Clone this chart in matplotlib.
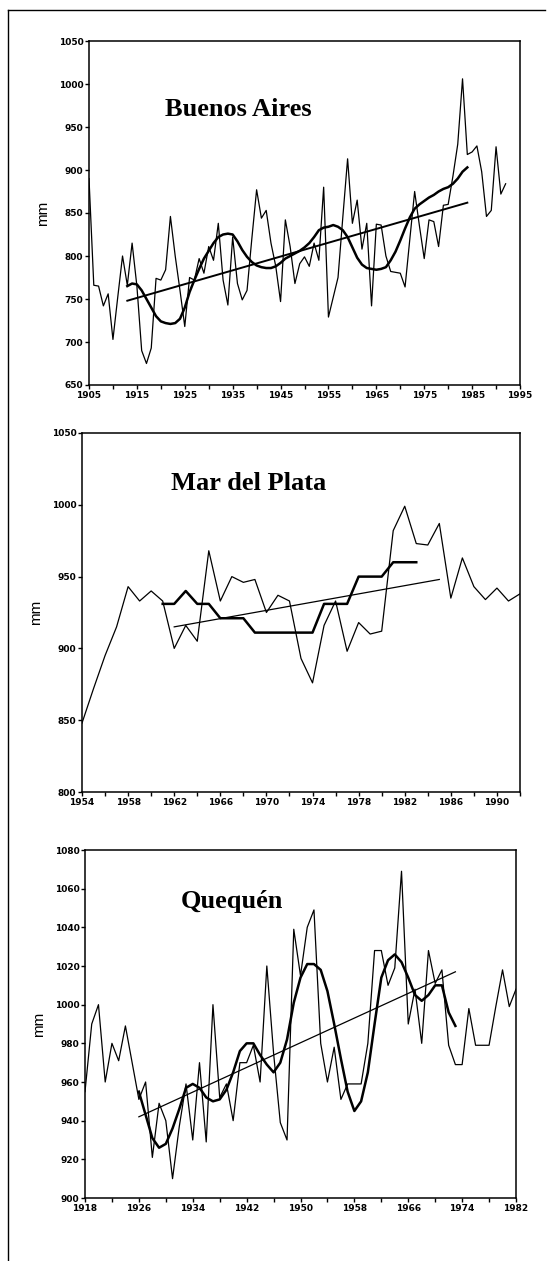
import matplotlib
matplotlib.use("Agg")
import matplotlib.pyplot as plt
from matplotlib.lines import Line2D

# ---------------- Buenos Aires ----------------
ba_years = list(range(1905, 1993))
ba_vals = [890, 766, 765, 742, 756, 703, 752, 800, 766, 815,
           765, 690, 675, 693, 774, 772, 784, 846, 800, 760,
           718, 775, 772, 797, 780, 811, 795, 838, 772, 743,
           822, 768, 749, 760, 820, 877, 844, 853, 815, 788,
           747, 842, 811, 768, 791, 799, 788, 815, 795, 880,
           729, 752, 775, 845, 913, 838, 865, 808, 838, 742,
           837, 836, 800, 782, 781, 780, 764, 820, 875, 835,
           797, 842, 840, 811, 859, 860, 893, 930, 1006, 918,
           921, 928, 898, 846, 853, 927, 872, 884]
ba_smooth_years = list(range(1913, 1985))
ba_smooth_vals = [765, 768, 767, 760, 750, 740, 730, 724, 722, 721,
                  722, 727, 740, 758, 772, 785, 797, 806, 815, 822,
                  825, 826, 825, 817, 807, 799, 793, 789, 787, 786,
                  786, 788, 792, 797, 800, 803, 806, 810, 815, 822,
                  830, 833, 834, 836, 834, 830, 822, 810, 798, 790,
                  786, 785, 784, 785, 787, 795, 805, 818, 832, 845,
                  855, 860, 864, 868, 871, 875, 878, 880, 884, 890,
                  898, 903]
ba_trend_years = [1913, 1984]
ba_trend_vals = [748, 862]
ba_xticks = list(range(1905, 1996, 10))
ba_xminor = list(range(1910, 1996, 10))
ba_yticks = list(range(650, 1051, 50))

# ---------------- Mar del Plata ----------------
mdp_years = list(range(1954, 1993))
mdp_vals = [848, 872, 895, 915, 943, 933, 940, 933, 900, 916,
            905, 968, 933, 950, 946, 948, 925, 937, 933, 893,
            876, 916, 933, 898, 918, 910, 912, 982, 999, 973,
            972, 987, 935, 963, 943, 934, 942, 933, 938]
mdp_smooth_years = list(range(1961, 1984))
mdp_smooth_vals = [931, 931, 940, 931, 931, 921, 921, 921, 911, 911,
                   911, 911, 911, 911, 931, 931, 931, 950, 950, 950,
                   960, 960, 960]
mdp_trend_years = [1962, 1985]
mdp_trend_vals = [915, 948]
mdp_xticks = list(range(1954, 1993, 4))
mdp_xminor = list(range(1956, 1993, 4))
mdp_yticks = list(range(800, 1051, 50))

# ---------------- Quequén ----------------
qq_years = list(range(1918, 1983))
qq_vals = [955, 990, 1000, 960, 980, 971, 989, 970, 951, 960,
           921, 949, 940, 910, 937, 959, 930, 970, 929, 1000,
           952, 959, 940, 970, 970, 979, 960, 1020, 975, 939,
           930, 1039, 1015, 1040, 1049, 980, 960, 978, 951, 959,
           959, 959, 980, 1028, 1028, 1010, 1019, 1069, 990, 1008,
           980, 1028, 1011, 1018, 979, 969, 969, 998, 979, 979,
           979, 999, 1018, 999, 1008]
qq_smooth_years = list(range(1926, 1974))
qq_smooth_vals = [955, 943, 931, 926, 928, 936, 946, 957, 959, 957,
                  952, 950, 951, 956, 965, 976, 980, 980, 974, 969,
                  965, 970, 982, 1001, 1014, 1021, 1021, 1018, 1007, 990,
                  972, 955, 945, 950, 965, 990, 1014, 1023, 1026, 1022,
                  1014, 1005, 1002, 1005, 1010, 1010, 996, 989]
qq_trend_years = [1926, 1973]
qq_trend_vals = [942, 1017]
qq_xticks = list(range(1918, 1983, 8))
qq_xminor = list(range(1922, 1983, 8))
qq_yticks = list(range(900, 1081, 20))

W, H = 557, 1261
fig = plt.figure(figsize=(W / 100, H / 100), dpi=100)

title_font = dict(family="Liberation Serif", weight="bold", size=19)


def make_axes(px_left, px_right, px_top, px_bottom):
    return fig.add_axes([px_left / W, 1 - px_bottom / H,
                         (px_right - px_left) / W, (px_bottom - px_top) / H])


def style(ax, xlim, ylim, xticks, xminor, yticks):
    ax.set_xlim(*xlim)
    ax.set_ylim(*ylim)
    ax.set_xticks(xticks)
    ax.set_xticks(xminor, minor=True)
    ax.set_yticks(yticks)
    ax.tick_params(axis="both", which="major", direction="out", length=3,
                   width=1, pad=1, colors="black")
    ax.tick_params(axis="x", which="minor", direction="out", length=3, width=1)
    for lab in ax.get_xticklabels() + ax.get_yticklabels():
        lab.set_fontfamily("DejaVu Sans")
        lab.set_fontweight("bold")
        lab.set_fontsize(6.5)
    for sp in ax.spines.values():
        sp.set_linewidth(1.1)
    ax.set_ylabel("mm", family="Liberation Sans", fontsize=11, labelpad=6)


# Buenos Aires
ax1 = make_axes(89, 520, 41, 385)
ax1.plot(ba_years, ba_vals, color="black", lw=0.9)
ax1.plot(ba_smooth_years, ba_smooth_vals, color="black", lw=1.8)
ax1.plot(ba_trend_years, ba_trend_vals, color="black", lw=1.4)
style(ax1, (1905, 1995), (650, 1050), ba_xticks, ba_xminor, ba_yticks)
ax1.text(0.346, 0.80, "Buenos Aires", transform=ax1.transAxes, ha="center",
         va="center", **title_font)

# Mar del Plata
ax2 = make_axes(82, 520, 433, 792)
ax2.plot(mdp_years, mdp_vals, color="black", lw=0.9)
ax2.plot(mdp_smooth_years, mdp_smooth_vals, color="black", lw=1.8)
ax2.plot(mdp_trend_years, mdp_trend_vals, color="black", lw=0.9)
style(ax2, (1954, 1992), (800, 1050), mdp_xticks, mdp_xminor, mdp_yticks)
ax2.text(0.38, 0.86, "Mar del Plata", transform=ax2.transAxes, ha="center",
         va="center", **title_font)

# Quequén
ax3 = make_axes(85, 516, 850, 1198)
ax3.plot(qq_years, qq_vals, color="black", lw=0.9)
ax3.plot(qq_smooth_years, qq_smooth_vals, color="black", lw=1.8)
ax3.plot(qq_trend_years, qq_trend_vals, color="black", lw=0.9)
style(ax3, (1918, 1982), (900, 1080), qq_xticks, qq_xminor, qq_yticks)
ax3.text(0.341, 0.852, "Quequén", transform=ax3.transAxes, ha="center",
         va="center", **title_font)

# page frame
fig.add_artist(Line2D([8 / W, 8 / W], [0, 1 - 10 / H], color="black", lw=1.0,
                      transform=fig.transFigure))
fig.add_artist(Line2D([8 / W, 545 / W], [1 - 10 / H, 1 - 10 / H], color="black",
                      lw=1.0, transform=fig.transFigure))

fig.savefig("out.png", dpi=100, facecolor="white")
